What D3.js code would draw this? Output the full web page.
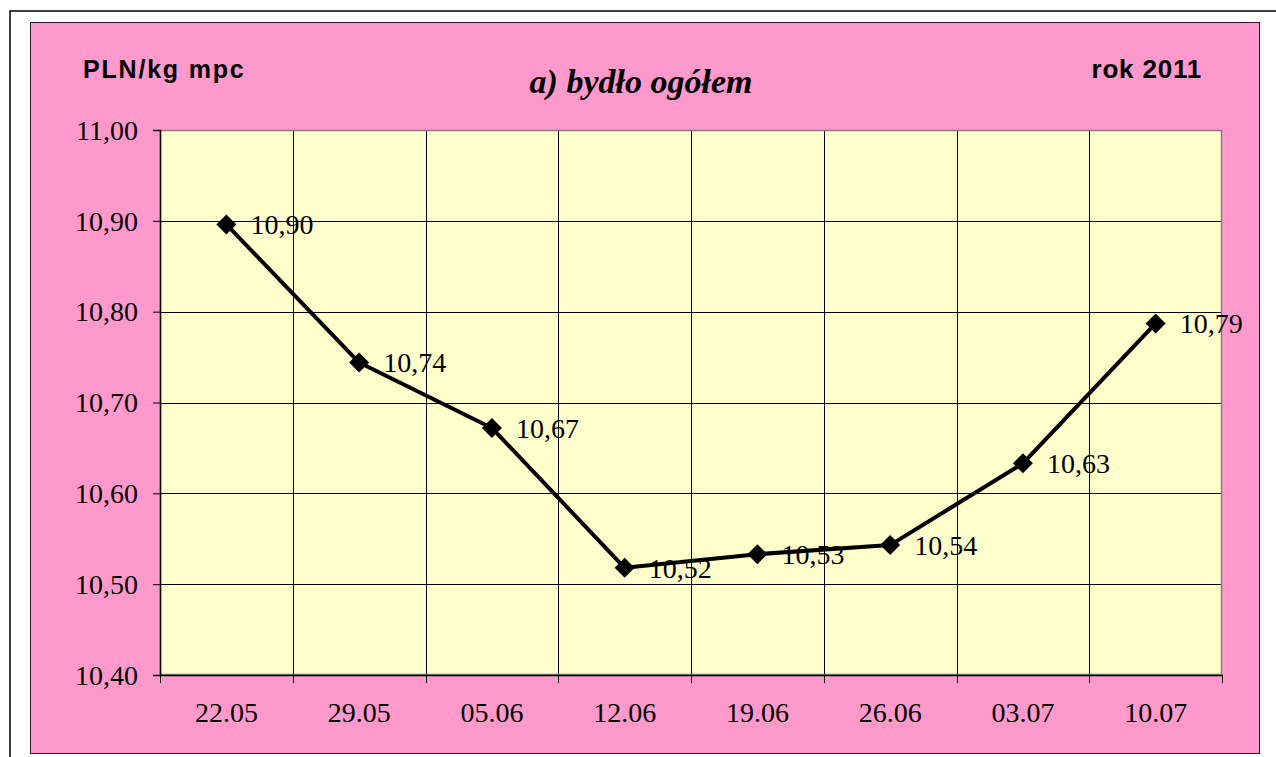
<!DOCTYPE html>
<html>
<head>
<meta charset="utf-8">
<script src="https://cdn.jsdelivr.net/npm/d3@7"></script>
<style>
  html, body { margin: 0; padding: 0; background: #fff; overflow: hidden; }
  svg { display: block; }
</style>
</head>
<body>
<div id="chart"></div>
<script>
// ── Dane ──
const tygodnie = ['22.05', '29.05', '05.06', '12.06', '19.06', '26.06', '03.07', '10.07'];
const ceny = [10.896, 10.744, 10.672, 10.518, 10.533, 10.543, 10.633, 10.787];
const ticksY = [10.4, 10.5, 10.6, 10.7, 10.8, 10.9, 11.0];

const W = 1276, H = 757;
const plot = { left: 160, top: 130, right: 1222, bottom: 675 };
const SERIF = "'Liberation Serif', 'Times New Roman', serif";
const SANS = "'Liberation Sans', Arial, sans-serif";

const svg = d3.select('#chart').append('svg')
  .attr('width', W).attr('height', H);

// ramka zewnętrzna (ucięta z prawej i u dołu)
svg.append('path')
  .attr('d', `M10,${H + 5} L10,11 L${W + 5},11`)
  .attr('fill', 'none').attr('stroke', '#000').attr('stroke-width', 1.5);

// tło różowe
svg.append('rect')
  .attr('x', 30.5).attr('y', 22.5).attr('width', 1229).attr('height', 731)
  .attr('fill', '#FF99CC').attr('stroke', '#222').attr('stroke-width', 1);

// obszar wykresu
svg.append('rect')
  .attr('x', plot.left).attr('y', plot.top)
  .attr('width', plot.right - plot.left).attr('height', plot.bottom - plot.top)
  .attr('fill', '#FFFFCC');

// ── Skale ──
const x = d3.scaleBand().domain(tygodnie).range([plot.left, plot.right]);
const y = d3.scaleLinear().domain([10.4, 11.0]).range([plot.bottom, plot.top]);

// siatka pozioma
svg.append('g').selectAll('line')
  .data(ticksY.slice(1))
  .join('line')
  .attr('x1', plot.left).attr('x2', plot.right)
  .attr('y1', d => Math.round(y(d)) + 0.5).attr('y2', d => Math.round(y(d)) + 0.5)
  .attr('stroke', '#000').attr('stroke-width', 1);

// siatka pionowa (granice kategorii)
svg.append('g').selectAll('line')
  .data(tygodnie.slice(1))
  .join('line')
  .attr('x1', d => Math.round(x(d)) + 0.5).attr('x2', d => Math.round(x(d)) + 0.5)
  .attr('y1', plot.top).attr('y2', plot.bottom)
  .attr('stroke', '#000').attr('stroke-width', 1);

// obramowanie obszaru
svg.append('rect')
  .attr('x', plot.left + 0.5).attr('y', plot.top + 0.5)
  .attr('width', plot.right - plot.left - 1).attr('height', plot.bottom - plot.top - 1)
  .attr('fill', 'none').attr('stroke', '#808080').attr('stroke-width', 1.5);

// ── Osie ──
const fmt = d3.format('.2f');
const przecinek = v => fmt(v).replace('.', ',');

const osY = svg.append('g')
  .attr('transform', `translate(${plot.left},0)`)
  .call(d3.axisLeft(y).tickValues(ticksY).tickSize(7).tickPadding(15).tickFormat(przecinek));
osY.select('.domain').attr('stroke', '#000').attr('stroke-width', 1.5);
osY.selectAll('.tick line').attr('stroke', '#000');
osY.selectAll('.tick text')
  .attr('fill', '#000')
  .style('font-family', SERIF)
  .style('font-size', '28px')
  .attr('dy', '0.33em');

const osX = svg.append('g')
  .attr('transform', `translate(0,${plot.bottom})`)
  .call(d3.axisBottom(x).tickSize(0).tickPadding(27));
osX.select('.domain').attr('stroke', '#000').attr('stroke-width', 1.5);
osX.selectAll('.tick text')
  .attr('fill', '#000')
  .style('font-family', SERIF)
  .style('font-size', '28px');

// znaczniki osi X na granicach kategorii
svg.append('g').selectAll('line')
  .data(x.domain().map(d => x(d)).concat([plot.right]))
  .join('line')
  .attr('x1', d => Math.round(d) + 0.5).attr('x2', d => Math.round(d) + 0.5)
  .attr('y1', plot.bottom).attr('y2', plot.bottom + 8)
  .attr('stroke', '#000');

// ── Seria ──
const cx = d => x(d) + x.bandwidth() / 2;
const linia = d3.line().x((d, i) => cx(tygodnie[i])).y(d => y(d));

svg.append('path')
  .datum(ceny)
  .attr('d', linia)
  .attr('fill', 'none')
  .attr('stroke', '#000')
  .attr('stroke-width', 4)
  .attr('stroke-linejoin', 'round');

const romb = d3.symbol().type(d3.symbolSquare).size(200);
svg.append('g').selectAll('path')
  .data(ceny)
  .join('path')
  .attr('d', romb)
  .attr('transform', (d, i) => `translate(${cx(tygodnie[i])},${y(d)}) rotate(45)`)
  .attr('fill', '#000');

// etykiety wartości
svg.append('g').selectAll('text')
  .data(ceny)
  .join('text')
  .attr('x', (d, i) => cx(tygodnie[i]) + 24)
  .attr('y', d => y(d))
  .attr('dy', '0.35em')
  .style('font-family', SERIF)
  .style('font-size', '28px')
  .attr('fill', '#000')
  .text(przecinek);

// ── Tytuły ──
svg.append('text')
  .attr('x', 83).attr('y', 78)
  .style('font-family', SANS)
  .style('font-size', '25px').style('font-weight', 'bold')
  .style('letter-spacing', '1.8px')
  .text('PLN/kg mpc');

svg.append('text')
  .attr('x', 1202).attr('y', 78)
  .attr('text-anchor', 'end')
  .style('font-family', SANS)
  .style('font-size', '26px').style('font-weight', 'bold')
  .style('letter-spacing', '0.8px')
  .text('rok 2011');

svg.append('text')
  .attr('x', 641).attr('y', 93)
  .attr('text-anchor', 'middle')
  .style('font-family', SERIF)
  .style('font-size', '34px').style('font-weight', 'bold').style('font-style', 'italic')
  .text('a) bydło ogółem');
</script>
</body>
</html>
